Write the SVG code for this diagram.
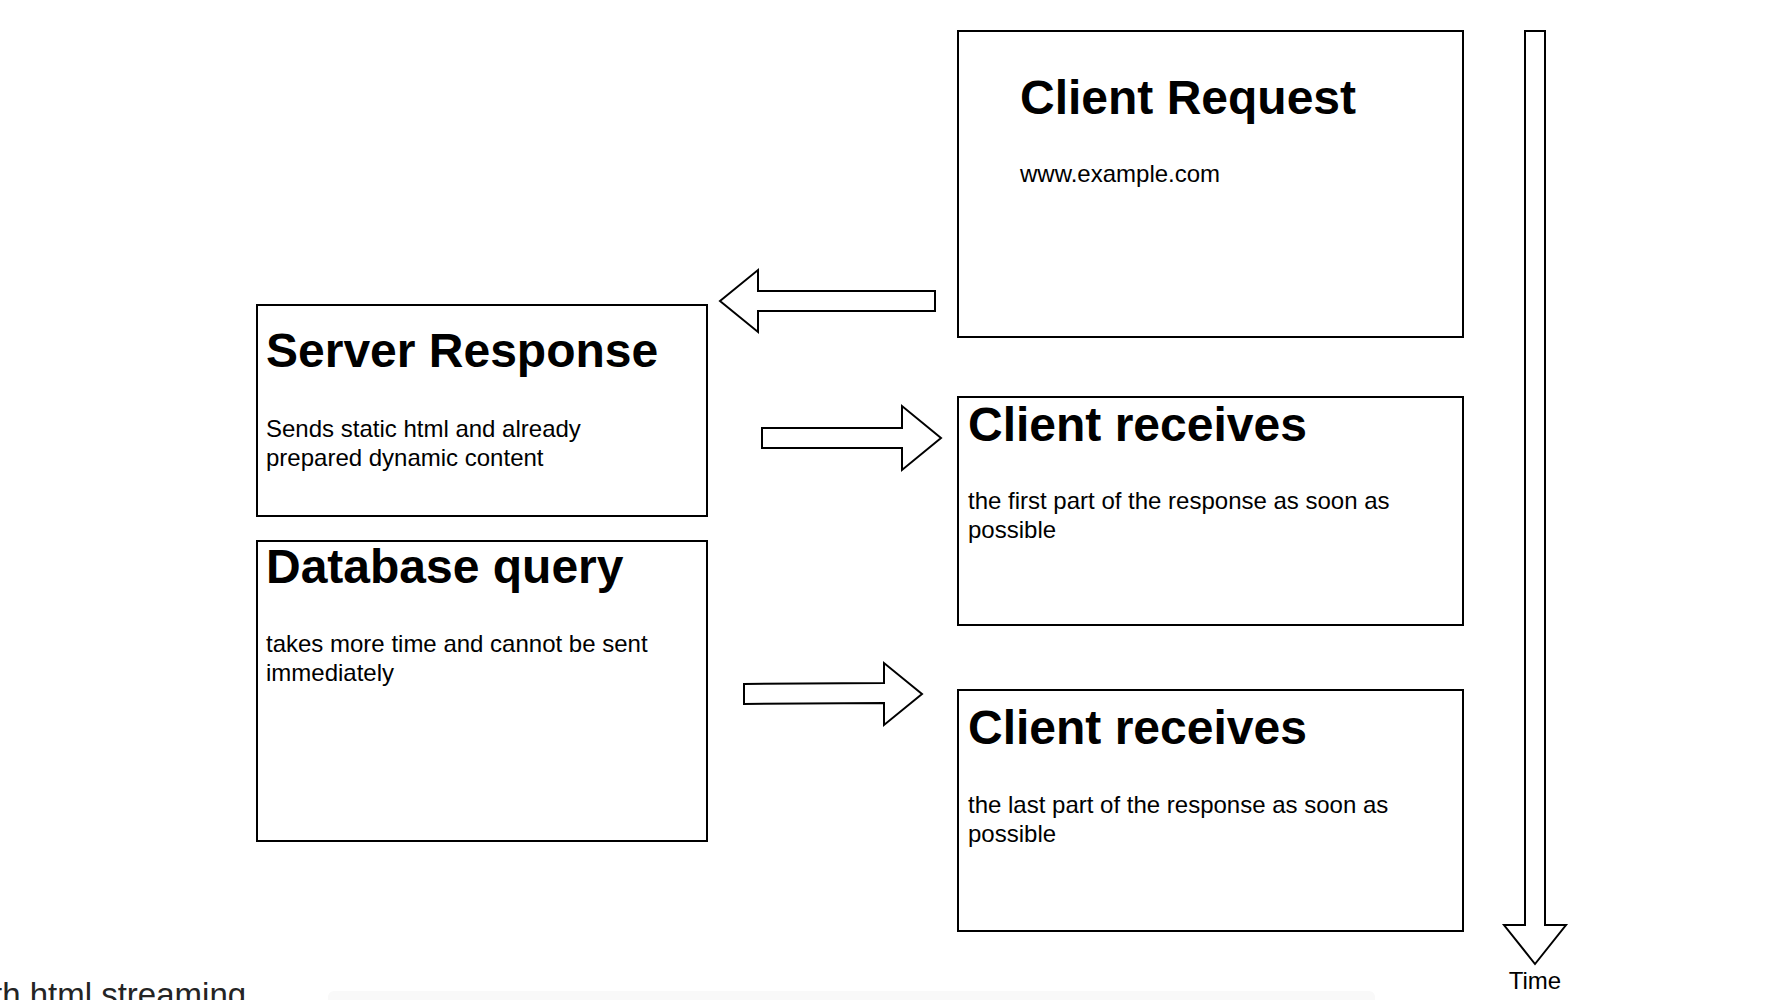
<svg xmlns="http://www.w3.org/2000/svg" width="1772" height="1000" viewBox="0 0 1772 1000">
<style>
.box{fill:#fff;stroke:#000;stroke-width:2}
.arr{fill:#fff;stroke:#000;stroke-width:2;stroke-linejoin:miter}
.h{font-family:"Liberation Sans",Arial,Helvetica,sans-serif;font-weight:bold;font-size:48px;fill:#000}
.p{font-family:"Liberation Sans",Arial,Helvetica,sans-serif;font-size:24px;fill:#000}
.foot{font-family:"Liberation Sans",Arial,Helvetica,sans-serif;font-size:33px;fill:#242424}
</style>
<rect width="1772" height="1000" fill="#fff"/>
<g id="node-client-request">
<rect class="box" x="958" y="31" width="505" height="306"/>
<text class="h" x="1020" y="114">Client Request</text>
<text class="p" x="1020" y="182">www.example.com</text>
</g>
<g id="node-server-response">
<rect class="box" x="257" y="305" width="450" height="211"/>
<text class="h" x="266" y="367">Server Response</text>
<text class="p" x="266" y="437">Sends static html and already</text>
<text class="p" x="266" y="466">prepared dynamic content</text>
</g>
<g id="node-database-query">
<rect class="box" x="257" y="541" width="450" height="300"/>
<text class="h" x="266" y="583">Database query</text>
<text class="p" x="266" y="652">takes more time and cannot be sent</text>
<text class="p" x="266" y="681">immediately</text>
</g>
<g id="node-client-receives-1">
<rect class="box" x="958" y="397" width="505" height="228"/>
<text class="h" x="968" y="441">Client receives</text>
<text class="p" x="968" y="509">the first part of the response as soon as</text>
<text class="p" x="968" y="538">possible</text>
</g>
<g id="node-client-receives-2">
<rect class="box" x="958" y="690" width="505" height="241"/>
<text class="h" x="968" y="744">Client receives</text>
<text class="p" x="968" y="813">the last part of the response as soon as</text>
<text class="p" x="968" y="842">possible</text>
</g>
<g id="connectors">
<polygon class="arr" points="720,301 758,270 758,291 935,291 935,311 758,311 758,332"/>
<polygon class="arr" points="762,428 902,428 902,406 941,438 902,470 902,448 762,448"/>
<polygon class="arr" points="744,684 884,683 884,663 922,694 884,725 884,703 744,704"/>
<polygon class="arr" points="1525,31 1545,31 1545,925 1566,925 1535,964 1504,925 1525,925"/>
<text class="p" x="1535" y="989" text-anchor="middle">Time</text>
</g>
<rect x="328" y="991" width="1047" height="16" rx="6" fill="#f9f9f9"/>
<text class="foot" x="-7" y="1006">th html streaming</text>
</svg>
